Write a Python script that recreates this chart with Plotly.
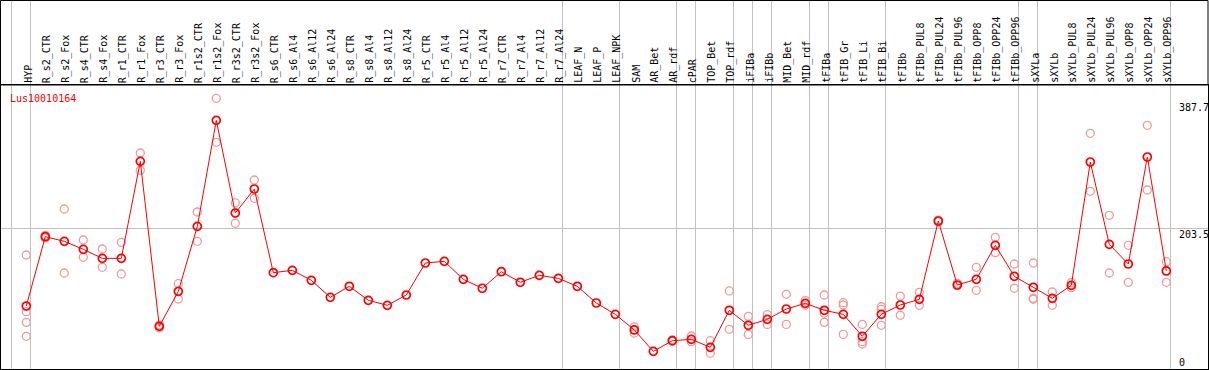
import plotly.graph_objects as go

title = "Lus10010164"

categories = [
    "HYP", "R_s2_CTR", "R_s2_Fox", "R_s4_CTR", "R_s4_Fox", "R_r1_CTR", "R_r1_Fox",
    "R_r3_CTR", "R_r3_Fox", "R_r1s2_CTR", "R_r1s2_Fox", "R_r3s2_CTR", "R_r3s2_Fox",
    "R_s6_CTR", "R_s6_Al4", "R_s6_Al12", "R_s6_Al24", "R_s8_CTR", "R_s8_Al4",
    "R_s8_Al12", "R_s8_Al24", "R_r5_CTR", "R_r5_Al4", "R_r5_Al12", "R_r5_Al24",
    "R_r7_CTR", "R_r7_Al4", "R_r7_Al12", "R_r7_Al24", "LEAF_N", "LEAF_P", "LEAF_NPK",
    "SAM", "AR_Bet", "AR_rdf", "cPAR", "TOP_Bet", "TOP_rdf", "iFIBa", "iFIBb",
    "MID_Bet", "MID_rdf", "tFIBa", "tFIB_Gr", "tFIB_Li", "tFIB_Bi", "tFIBb",
    "tFIBb_PUL8", "tFIBb_PUL24", "tFIBb_PUL96", "tFIBb_OPP8", "tFIBb_OPP24",
    "tFIBb_OPP96", "sXYLa", "sXYLb", "sXYLb_PUL8", "sXYLb_PUL24", "sXYLb_PUL96",
    "sXYLb_OPP8", "sXYLb_OPP24", "sXYLb_OPP96",
]

means = [
    85.1, 190.5, 183.5, 171.3, 157.6, 157.6, 305.1,
    54.2, 107.4, 206.2, 367.4, 226.5, 263.0,
    135.8, 139.4, 124.2, 98.3, 115.1, 93.8,
    86.2, 101.9, 150.5, 153.1, 125.7, 112.1,
    137.3, 121.2, 131.8, 127.2, 115.1, 89.7, 72.5,
    48.7, 16.2, 32.4, 34.5, 22.3, 78.6, 55.8, 64.9,
    80.6, 89.2, 78.6, 72.5, 39.1, 72.5, 86.7,
    95.3, 214.4, 117.1, 125.7, 177.4,
    130.3, 113.6, 96.8, 116.6, 304.1, 178.9,
    149.0, 311.7, 138.4,
]

replicates = [
    [162.7, 76.5, 60.3, 39.1], [192.5, 188.5], [232.6, 135.3], [185.5, 159.2],
    [171.8, 144.0], [181.9, 133.8], [317.8, 291.4],
    [56.5, 52.0], [119.1, 95.8], [228.1, 183.5], [400.9, 334.0], [241.8, 210.9],
    [276.7, 248.9],
    [], [], [], [], [], [],
    [], [], [], [], [], [],
    [], [], [], [], [], [], [],
    [53.5, 44.0], [], [33.5, 31.3], [39.5, 30.9], [32.4, 13.2], [108.0, 49.7],
    [69.4, 42.0], [72.0, 57.2],
    [102.9, 57.2], [93.3, 86.2], [101.9, 74.0, 60.3], [90.2, 86.7, 42.0],
    [57.2, 30.9, 27.4], [84.0, 80.0, 55.8], [100.3, 71.0],
    [105.9, 86.2], [215.5, 213.0], [119.6, 116.0], [144.0, 109.0], [189.6, 166.2],
    [149.0, 112.1], [150.5, 96.8, 95.3], [106.4, 86.2], [120.6, 113.0],
    [347.7, 259.5], [223.0, 135.3],
    [177.4, 121.2], [359.9, 261.5], [152.5, 121.2],
]

# group separators drawn after these categories (plus one before the first)
separators_after = [
    "HYP", "R_r7_Al24", "LEAF_NPK", "AR_rdf", "cPAR", "TOP_rdf", "iFIBa", "iFIBb",
    "MID_rdf", "tFIBa", "tFIB_Bi", "tFIBb_OPP96", "sXYLa", "sXYLb_OPP96",
]

y_tick_values = [387.7, 203.5, 0]
y_tick_labels = ["387.7", "203.5", "0"]
grid_values = [203.5]

# ---------------- layout geometry ----------------
W, H = 1209, 370
ML, MR, MT, MB = 1, 1, 85, 1
plot_w = W - ML - MR
plot_h = H - MT - MB
x_first_px, x_step_px = 26.3, 19.0
y_zero_px, y_px_per_unit = 362.0, 0.6577

x_range = [(ML - x_first_px) / x_step_px, (ML + plot_w - x_first_px) / x_step_px]
y_range = [(y_zero_px - (MT + plot_h)) / y_px_per_unit, (y_zero_px - MT) / y_px_per_unit]
top_paper = 1 + (MT - 0.5) / plot_h

idx = list(range(len(categories)))
mono = "DejaVu Sans Mono"

fig = go.Figure()

rx, ry = [], []
for i, reps in enumerate(replicates):
    for r in reps:
        rx.append(i)
        ry.append(r)

fig.add_trace(go.Scatter(
    x=rx, y=ry, mode="markers", hoverinfo="skip",
    marker=dict(symbol="circle-open", size=8, color="#f09a9a",
                line=dict(width=1.3, color="#f09a9a")),
    cliponaxis=False,
))
fig.add_trace(go.Scatter(
    x=idx, y=means, mode="lines+markers",
    line=dict(color="#ff0000", width=1),
    marker=dict(symbol="circle-open", size=8, color="#ff0000",
                line=dict(width=1.7, color="#ff0000")),
    cliponaxis=False,
))

shapes = []
sep_positions = [-1] + [categories.index(c) for c in separators_after]
for p in sep_positions:
    shapes.append(dict(type="line", xref="x", yref="paper",
                       x0=p + 0.22, x1=p + 0.22, y0=0, y1=top_paper,
                       line=dict(color="#c0c0c0", width=1), layer="below"))
# outer frame around header
shapes.append(dict(type="rect", xref="paper", yref="paper",
                   x0=-0.5 / plot_w, x1=1, y0=1, y1=top_paper,
                   line=dict(color="black", width=1)))

annotations = []
for i, c in enumerate(categories):
    annotations.append(dict(
        x=i, xref="x", y=1, yref="paper", text=c, showarrow=False,
        textangle=-90, xanchor="center", yanchor="bottom", yshift=1, xshift=1.5,
        font=dict(family=mono, size=10, color="black"),
        borderpad=0,
    ))

annotations.append(dict(
    x=(9 - ML) / plot_w, xref="paper", y=1 - (91.5 - MT) / plot_h, yref="paper",
    text=title, showarrow=False, xanchor="left", yanchor="top",
    font=dict(family=mono, size=10, color="#ff0000"), borderpad=0,
))

for v, t in zip(y_tick_values, y_tick_labels):
    annotations.append(dict(
        x=(1178 - ML) / plot_w, xref="paper", y=v, yref="y", text=t,
        showarrow=False, xanchor="left",
        yanchor="top" if v in grid_values else "middle",
        font=dict(family=mono, size=10, color="black"), borderpad=0,
    ))

fig.update_layout(
    width=W, height=H,
    margin=dict(l=ML, r=MR, t=MT, b=MB, pad=0),
    paper_bgcolor="white", plot_bgcolor="white",
    showlegend=False,
    shapes=shapes, annotations=annotations,
    xaxis=dict(range=x_range, showgrid=False, zeroline=False, showticklabels=False,
               ticks="", showline=True, mirror=True, linecolor="black", linewidth=1,
               fixedrange=True),
    yaxis=dict(range=y_range, tickvals=grid_values, showgrid=True, gridcolor="#c0c0c0",
               gridwidth=1, zeroline=False, showticklabels=False, ticks="",
               showline=True, mirror=True, linecolor="black", linewidth=1,
               fixedrange=True),
)

fig.write_html("out.html", config={"displayModeBar": False},
               post_script="document.body.style.margin='0px';document.body.style.overflow='hidden';")
